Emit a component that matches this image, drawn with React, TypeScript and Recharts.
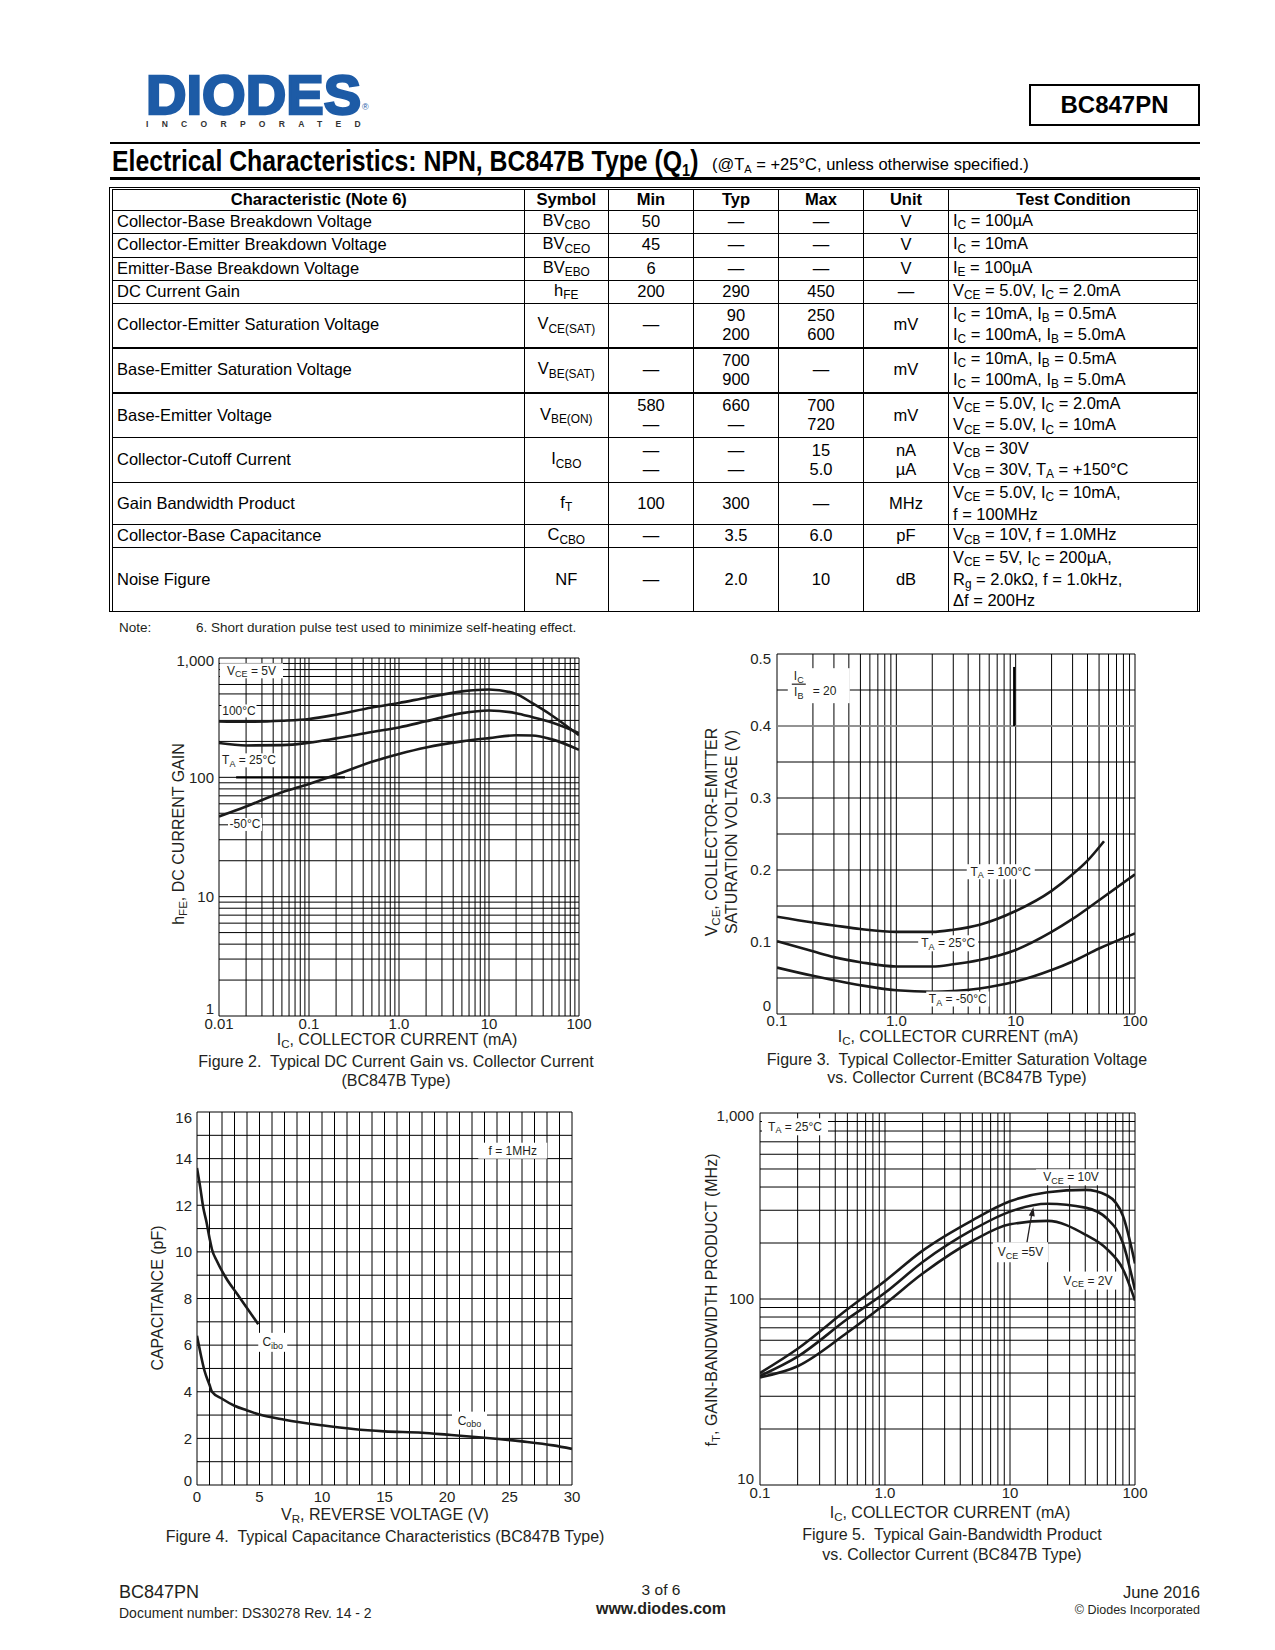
import React from 'react';
import { LineChart, Line, XAxis, YAxis, CartesianGrid, ReferenceDot, ReferenceLine } from 'recharts';

const FONT = '"Liberation Sans", Arial, Helvetica, sans-serif';
const INK = '#231f20';

// ---------- Figure 2: hFE vs IC ----------
const fig2Current = [0.01, 0.02, 0.05, 0.1, 0.2, 0.5, 1, 2, 5, 10, 20, 30, 50, 100];
const fig2Gain100C = [294, 292, 298, 308, 335, 385, 420, 465, 525, 545, 500, 420, 330, 225];
const fig2Gain25C = [194, 185, 186, 195, 212, 240, 262, 295, 345, 363, 345, 320, 288, 235];
const fig2GainMinus50C = [47, 57, 75, 88, 105, 135, 157, 178, 200, 213, 225, 224, 208, 170];
const fig2XTicks = [0.01, 0.1, 1, 10, 100];
const fig2XTickLabels = ['0.01', '0.1', '1.0', '10', '100'];
const fig2YTicks = [1, 10, 100, 1000];
const fig2YTickLabels = ['1', '10', '100', '1,000'];
const fig2YTickShift = [-7, 0, 0, 3];

// ---------- Figure 3: VCE(sat) vs IC ----------
const fig3Current = [0.1, 0.2, 0.3, 0.5, 1, 2, 3, 5, 10, 20, 30, 50, 100];
const fig3Current100C = [0.1, 0.2, 0.3, 0.5, 1, 2, 3, 5, 10, 20, 30, 40, 55];
const fig3Vsat100C = [0.135, 0.127, 0.123, 0.118, 0.114, 0.114, 0.117, 0.124, 0.143, 0.171, 0.194, 0.213, 0.24];
const fig3Vsat25C = [0.101, 0.087, 0.079, 0.072, 0.066, 0.066, 0.069, 0.075, 0.089, 0.114, 0.132, 0.158, 0.194];
const fig3VsatMinus50C = [0.0645, 0.053, 0.047, 0.04, 0.033, 0.031, 0.032, 0.0355, 0.045, 0.061, 0.073, 0.091, 0.112];
const fig3XTicks = [0.1, 1, 10, 100];
const fig3XTickLabels = ['0.1', '1.0', '10', '100'];
const fig3YTicks = [0, 0.1, 0.2, 0.3, 0.4, 0.5];
const fig3YTickLabels = ['0', '0.1', '0.2', '0.3', '0.4', '0.5'];
const fig3YTickShift = [-8, 0, 0, 0, 0, 5];

// ---------- Figure 4: Capacitance vs VR ----------
const fig4CiboVoltage = [0, 0.25, 0.5, 0.75, 1.0, 1.2, 1.6, 2.3, 3.2, 4.9];
const fig4Cibo = [13.6, 12.8, 11.9, 11.3, 10.6, 10.1, 9.6, 8.9, 8.2, 6.9];
const fig4CoboVoltage = [0, 0.3, 0.6, 1.0, 1.2, 2, 3, 4, 5, 7, 10, 12.5, 15, 18, 20, 23, 26, 28.5, 30];
const fig4Cobo = [6.4, 5.6, 4.9, 4.3, 4.0, 3.7, 3.4, 3.2, 3.02, 2.8, 2.56, 2.4, 2.3, 2.24, 2.16, 2.03, 1.87, 1.7, 1.55];
const fig4XTicks = [0, 5, 10, 15, 20, 25, 30];
const fig4XTickLabels = ['0', '5', '10', '15', '20', '25', '30'];
const fig4YTicks = [0, 2, 4, 6, 8, 10, 12, 14, 16];
const fig4YTickLabels = ['0', '2', '4', '6', '8', '10', '12', '14', '16'];
const fig4YTickShift = [-4, 0, 0, 0, 0, 0, 0, 0, 6];

// ---------- Figure 5: fT vs IC ----------
const fig5Current = [0.1, 0.2, 0.5, 1, 2, 5, 10, 20, 40, 60, 80, 100];
const fig5Ft10V = [40, 54, 88, 125, 182, 265, 335, 375, 386, 360, 280, 155];
const fig5Ft5V = [38.6, 49, 78, 108, 158, 235, 295, 325, 310, 270, 200, 112];
const fig5Ft2V = [37.9, 43.5, 66, 94, 137, 205, 252, 263, 222, 185, 145, 98];
const fig5XTicks = [0.1, 1, 10, 100];
const fig5XTickLabels = ['0.1', '1.0', '10', '100'];
const fig5YTicks = [10, 100, 1000];
const fig5YTickLabels = ['10', '100', '1,000'];
const fig5YTickShift = [-6, 0, 3];

// ---------- helpers ----------
const logGrid = (fromExp: number, toExp: number) => {
  const out: number[] = [];
  for (let e = fromExp; e < toExp; e++) {
    for (let m = 1; m < 10; m++) out.push(parseFloat((m * Math.pow(10, e)).toPrecision(6)));
  }
  out.push(Math.pow(10, toExp));
  return out;
};
const linGrid = (from: number, to: number, step: number) => {
  const out: number[] = [];
  const n = Math.round((to - from) / step);
  for (let i = 0; i <= n; i++) out.push(parseFloat((from + i * step).toPrecision(6)));
  return out;
};
const toData = (xs: number[], ys: number[]) => xs.map((x, i) => ({ x, y: ys[i] }));
const idxOf = (ticks: number[], v: number) =>
  ticks.findIndex((t) => Math.abs(t - v) <= 1e-9 * Math.max(1, Math.abs(t)));
const fmt = (ticks: number[], labels: string[]) => (v: number) => {
  const i = idxOf(ticks, v);
  return i >= 0 ? labels[i] : '';
};
const yTick = (ticks: number[], labels: string[], shifts: number[]) => (props: any) => {
  const v = props.payload ? props.payload.value : 0;
  const i = idxOf(ticks, v);
  if (i < 0) return <g />;
  return (
    <text x={props.x} y={props.y + (shifts[i] || 0)} dy="0.355em" textAnchor="end" fill={INK} fontSize={15} fontFamily={FONT}>
      {labels[i]}
    </text>
  );
};

type Part = [string, boolean];
function svgParts(parts: Part[], fs: number) {
  let shifted = false;
  return parts.map(([t, sub], i) => {
    let dy = 0;
    if (sub && !shifted) {
      dy = fs * 0.3;
      shifted = true;
    } else if (!sub && shifted) {
      dy = -fs * 0.3;
      shifted = false;
    }
    return (
      <tspan key={i} dy={dy} fontSize={sub ? fs * 0.75 : fs}>
        {t}
      </tspan>
    );
  });
}

const boxShape = (parts: Part[], w: number, h: number, fs = 12) => (p: any) => {
  const cx = p.cx;
  const cy = p.cy;
  return (
    <g>
      <rect x={cx - w / 2} y={cy - h / 2} width={w} height={h} fill="#fff" />
      <text x={cx} y={cy} textAnchor="middle" dominantBaseline="central" fontFamily={FONT} fontSize={fs} fill={INK}>
        {svgParts(parts, fs)}
      </text>
    </g>
  );
};

const fractionShape = (p: any) => {
  const cx = p.cx;
  const cy = p.cy;
  return (
    <g fontFamily={FONT} fill={INK}>
      <rect x={cx - 31} y={cy - 17.5} width={62} height={35} fill="#fff" />
      <text x={cx - 20} y={cy - 9.5} textAnchor="middle" dominantBaseline="central" fontSize={12}>
        {svgParts([['I', false], ['C', true]], 12)}
      </text>
      <line x1={cx - 27} x2={cx - 13} y1={cy - 1.5} y2={cy - 1.5} stroke={INK} strokeWidth={1.2} />
      <text x={cx - 20} y={cy + 6.5} textAnchor="middle" dominantBaseline="central" fontSize={12}>
        {svgParts([['I', false], ['B', true]], 12)}
      </text>
      <text x={cx - 6} y={cy + 5.5} textAnchor="start" dominantBaseline="central" fontSize={12}>
        = 20
      </text>
    </g>
  );
};

const arrowHeadShape = (p: any) => {
  const ux = 0.177;
  const uy = -0.984;
  const L = 9;
  const W = 3;
  const bx = p.cx - ux * L;
  const by = p.cy - uy * L;
  const px = -uy;
  const py = ux;
  return (
    <polygon
      points={`${p.cx},${p.cy} ${bx + px * W},${by + py * W} ${bx - px * W},${by - py * W}`}
      fill={INK}
    />
  );
};

const tickStyle = { fill: INK, fontSize: 15, fontFamily: FONT };
const curveProps = {
  dataKey: 'y',
  type: 'monotone' as const,
  stroke: '#1a1a1a',
  strokeWidth: 2.6,
  dot: false,
  activeDot: false,
  isAnimationActive: false,
};

const Sub = ({ children }: { children: React.ReactNode }) => (
  <span style={{ fontSize: '0.72em', position: 'relative', top: '0.28em' }}>{children}</span>
);

const Txt = ({
  x,
  y,
  size = 16,
  bold = false,
  anchor = 'center',
  rotate = false,
  color = INK,
  children,
}: {
  x: number;
  y: number;
  size?: number;
  bold?: boolean;
  anchor?: 'center' | 'start' | 'end';
  rotate?: boolean;
  color?: string;
  children: React.ReactNode;
}) => {
  const tx = anchor === 'center' ? '-50%' : anchor === 'end' ? '-100%' : '0';
  return (
    <div
      style={{
        position: 'absolute',
        left: x,
        top: y,
        transform: `translate(${tx}, -50%)${rotate ? ' rotate(-90deg)' : ''}`,
        fontSize: size,
        fontWeight: bold ? 700 : 400,
        whiteSpace: 'nowrap',
        lineHeight: 1,
        color,
      }}
    >
      {children}
    </div>
  );
};

const MARGIN = { top: 10, right: 25, bottom: 0, left: 0 };

// ---------- Charts ----------
function Fig2() {
  return (
    <div style={{ position: 'absolute', left: 150, top: 648 }}>
      <LineChart width={454} height={398} margin={MARGIN}>
        <CartesianGrid stroke="#000" strokeWidth={1} horizontalValues={logGrid(0, 3)} verticalValues={logGrid(-2, 2)} />
        <XAxis dataKey="x" type="number" scale="log" domain={[0.01, 100]} allowDataOverflow ticks={fig2XTicks} interval={0}
          tickFormatter={fmt(fig2XTicks, fig2XTickLabels)} tick={tickStyle} tickLine={false} axisLine={false} tickSize={0} tickMargin={2} height={30} />
        <YAxis type="number" scale="log" domain={[1, 1000]} allowDataOverflow ticks={fig2YTicks} interval={0}
          tick={yTick(fig2YTicks, fig2YTickLabels, fig2YTickShift)} tickLine={false} axisLine={false} tickSize={0} tickMargin={5} width={69} />
        <ReferenceLine segment={[{ x: 0.0155, y: 100 }, { x: 0.251, y: 100 }]} stroke="#000" strokeWidth={2.2} ifOverflow="visible" />
        <Line {...curveProps} data={toData(fig2Current, fig2Gain100C)} />
        <Line {...curveProps} data={toData(fig2Current, fig2Gain25C)} />
        <Line {...curveProps} data={toData(fig2Current, fig2GainMinus50C)} />
        <ReferenceDot x={0.02296} y={781} r={1} ifOverflow="visible" shape={boxShape([['V', false], ['CE', true], [' = 5V', false]], 63, 15)} />
        <ReferenceDot x={0.01668} y={360} r={1} ifOverflow="visible" shape={boxShape([['100°C', false]], 35, 13)} />
        <ReferenceDot x={0.02154} y={138.8} r={1} ifOverflow="visible" shape={boxShape([['T', false], ['A', true], [' = 25°C', false]], 56, 14)} />
        <ReferenceDot x={0.01945} y={40.3} r={1} ifOverflow="visible" shape={boxShape([['-50°C', false]], 34, 13)} />
      </LineChart>
    </div>
  );
}

function Fig3() {
  return (
    <div style={{ position: 'absolute', left: 707, top: 644 }}>
      <LineChart width={453} height={400} margin={MARGIN}>
        <CartesianGrid stroke="#000" strokeWidth={1} horizontalValues={linGrid(0, 0.5, 0.05)} verticalValues={logGrid(-1, 2)} />
        <XAxis dataKey="x" type="number" scale="log" domain={[0.1, 100]} allowDataOverflow ticks={fig3XTicks} interval={0}
          tickFormatter={fmt(fig3XTicks, fig3XTickLabels)} tick={tickStyle} tickLine={false} axisLine={false} tickSize={0} tickMargin={1} height={30} />
        <YAxis type="number" domain={[0, 0.5]} allowDataOverflow ticks={fig3YTicks} interval={0}
          tick={yTick(fig3YTicks, fig3YTickLabels, fig3YTickShift)} tickLine={false} axisLine={false} tickSize={0} tickMargin={6} width={70} />
        <ReferenceLine y={0.4} stroke="#9a9a9a" strokeWidth={1.3} ifOverflow="visible" />
        <ReferenceLine segment={[{ x: 9.7, y: 0.4 }, { x: 9.7, y: 0.482 }]} stroke="#000" strokeWidth={2} ifOverflow="visible" />
        <Line {...curveProps} data={toData(fig3Current100C, fig3Vsat100C)} />
        <Line {...curveProps} data={toData(fig3Current, fig3Vsat25C)} />
        <Line {...curveProps} data={toData(fig3Current, fig3VsatMinus50C)} />
        <ReferenceDot x={0.224} y={0.456} r={1} ifOverflow="visible" shape={fractionShape} />
        <ReferenceDot x={7.5} y={0.1976} r={1} ifOverflow="visible" shape={boxShape([['T', false], ['A', true], [' = 100°C', false]], 68, 15)} />
        <ReferenceDot x={2.72} y={0.0982} r={1} ifOverflow="visible" shape={boxShape([['T', false], ['A', true], [' = 25°C', false]], 60, 16)} />
        <ReferenceDot x={3.27} y={0.0208} r={1} ifOverflow="visible" shape={boxShape([['T', false], ['A', true], [' =  -50°C', false]], 63, 15)} />
      </LineChart>
    </div>
  );
}

function Fig4() {
  return (
    <div style={{ position: 'absolute', left: 130, top: 1102 }}>
      <LineChart width={467} height={413} margin={MARGIN}>
        <CartesianGrid stroke="#000" strokeWidth={1} horizontalValues={linGrid(0, 16, 1)} verticalValues={linGrid(0, 30, 1)} />
        <XAxis dataKey="x" type="number" domain={[0, 30]} allowDataOverflow ticks={fig4XTicks} interval={0}
          tickFormatter={fmt(fig4XTicks, fig4XTickLabels)} tick={tickStyle} tickLine={false} axisLine={false} tickSize={0} tickMargin={6} height={30} />
        <YAxis type="number" domain={[0, 16]} allowDataOverflow ticks={fig4YTicks} interval={0}
          tick={yTick(fig4YTicks, fig4YTickLabels, fig4YTickShift)} tickLine={false} axisLine={false} tickSize={0} tickMargin={5} width={67} />
        <Line {...curveProps} data={toData(fig4CiboVoltage, fig4Cibo)} />
        <Line {...curveProps} data={toData(fig4CoboVoltage, fig4Cobo)} />
        <ReferenceDot x={25.26} y={14.34} r={1} ifOverflow="visible" shape={boxShape([['f = 1MHz', false]], 69, 16)} />
        <ReferenceDot x={6.06} y={6.12} r={1} ifOverflow="visible" shape={boxShape([['C', false], ['ibo', true]], 29, 19)} />
        <ReferenceDot x={21.8} y={2.76} r={1} ifOverflow="visible" shape={boxShape([['C', false], ['obo', true]], 35, 18)} />
      </LineChart>
    </div>
  );
}

function Fig5() {
  return (
    <div style={{ position: 'absolute', left: 690, top: 1103 }}>
      <LineChart width={470} height={412} margin={MARGIN}>
        <CartesianGrid stroke="#000" strokeWidth={1} horizontalValues={logGrid(1, 3)} verticalValues={logGrid(-1, 2)} />
        <XAxis dataKey="x" type="number" scale="log" domain={[0.1, 100]} allowDataOverflow ticks={fig5XTicks} interval={0}
          tickFormatter={fmt(fig5XTicks, fig5XTickLabels)} tick={tickStyle} tickLine={false} axisLine={false} tickSize={0} tickMargin={2} height={30} />
        <YAxis type="number" scale="log" domain={[10, 1000]} allowDataOverflow ticks={fig5YTicks} interval={0}
          tick={yTick(fig5YTicks, fig5YTickLabels, fig5YTickShift)} tickLine={false} axisLine={false} tickSize={0} tickMargin={6} width={70} />
        <Line {...curveProps} data={toData(fig5Current, fig5Ft10V)} />
        <Line {...curveProps} data={toData(fig5Current, fig5Ft5V)} />
        <Line {...curveProps} data={toData(fig5Current, fig5Ft2V)} />
        <ReferenceLine segment={[{ x: 13.6, y: 198 }, { x: 15.1, y: 300 }]} stroke={INK} strokeWidth={1.3} ifOverflow="visible" />
        <ReferenceDot x={15.38} y={312} r={1} ifOverflow="visible" shape={arrowHeadShape} />
        <ReferenceDot x={0.1905} y={843} r={1} ifOverflow="visible" shape={boxShape([['T', false], ['A', true], [' = 25°C', false]], 66, 17)} />
        <ReferenceDot x={30.8} y={451} r={1} ifOverflow="visible" shape={boxShape([['V', false], ['CE', true], [' = 10V', false]], 70, 16)} />
        <ReferenceDot x={12.13} y={178.4} r={1} ifOverflow="visible" shape={boxShape([['V', false], ['CE', true], [' =5V', false]], 55, 20)} />
        <ReferenceDot x={42.1} y={125.6} r={1} ifOverflow="visible" shape={boxShape([['V', false], ['CE', true], [' = 2V', false]], 58, 18)} />
      </LineChart>
    </div>
  );
}

// ---------- Table ----------
const colW = [411.6, 84.4, 85, 85, 85, 85, 249];
const rowH = [21, 22, 24, 23, 23, 44, 45, 45, 45, 42, 23, 62];

const L = ({ lines }: { lines: React.ReactNode[] }) => (
  <>
    {lines.map((l, i) => (
      <div key={i}>{l}</div>
    ))}
  </>
);

function SpecTable() {
  const D = '—';
  const rows: React.ReactNode[][] = [
    ['Collector-Base Breakdown Voltage', <>BV<Sub>CBO</Sub></>, '50', D, D, 'V', <>I<Sub>C</Sub> = 100µA</>],
    ['Collector-Emitter Breakdown Voltage', <>BV<Sub>CEO</Sub></>, '45', D, D, 'V', <>I<Sub>C</Sub> = 10mA</>],
    ['Emitter-Base Breakdown Voltage', <>BV<Sub>EBO</Sub></>, '6', D, D, 'V', <>I<Sub>E</Sub> = 100µA</>],
    ['DC Current Gain', <>h<Sub>FE</Sub></>, '200', '290', '450', D, <>V<Sub>CE</Sub> = 5.0V, I<Sub>C</Sub> = 2.0mA</>],
    ['Collector-Emitter Saturation Voltage', <>V<Sub>CE(SAT)</Sub></>, D, <L lines={['90', '200']} />, <L lines={['250', '600']} />, 'mV',
      <L lines={[<>I<Sub>C</Sub> = 10mA, I<Sub>B</Sub> = 0.5mA</>, <>I<Sub>C</Sub> = 100mA, I<Sub>B</Sub> = 5.0mA</>]} />],
    ['Base-Emitter Saturation Voltage', <>V<Sub>BE(SAT)</Sub></>, D, <L lines={['700', '900']} />, D, 'mV',
      <L lines={[<>I<Sub>C</Sub> = 10mA, I<Sub>B</Sub> = 0.5mA</>, <>I<Sub>C</Sub> = 100mA, I<Sub>B</Sub> = 5.0mA</>]} />],
    ['Base-Emitter Voltage', <>V<Sub>BE(ON)</Sub></>, <L lines={['580', D]} />, <L lines={['660', D]} />, <L lines={['700', '720']} />, 'mV',
      <L lines={[<>V<Sub>CE</Sub> = 5.0V, I<Sub>C</Sub> = 2.0mA</>, <>V<Sub>CE</Sub> = 5.0V, I<Sub>C</Sub> = 10mA</>]} />],
    ['Collector-Cutoff Current', <>I<Sub>CBO</Sub></>, <L lines={[D, D]} />, <L lines={[D, D]} />, <L lines={['15', '5.0']} />, <L lines={['nA', 'µA']} />,
      <L lines={[<>V<Sub>CB</Sub> = 30V</>, <>V<Sub>CB</Sub> = 30V, T<Sub>A</Sub> = +150°C</>]} />],
    ['Gain Bandwidth Product', <>f<Sub>T</Sub></>, '100', '300', D, 'MHz',
      <L lines={[<>V<Sub>CE</Sub> = 5.0V, I<Sub>C</Sub> = 10mA,</>, 'f = 100MHz']} />],
    ['Collector-Base Capacitance', <>C<Sub>CBO</Sub></>, D, '3.5', '6.0', 'pF', <>V<Sub>CB</Sub> = 10V, f = 1.0MHz</>],
    ['Noise Figure', 'NF', D, '2.0', '10', 'dB',
      <L lines={[<>V<Sub>CE</Sub> = 5V, I<Sub>C</Sub> = 200µA,</>, <>R<Sub>g</Sub> = 2.0kΩ, f = 1.0kHz,</>, 'Δf = 200Hz']} />],
  ];
  const header = ['Characteristic (Note 6)', 'Symbol', 'Min', 'Typ', 'Max', 'Unit', 'Test Condition'];
  const cell = (ci: number, thick: boolean, bold = false): React.CSSProperties => ({
    border: '1px solid #000',
    borderBottom: thick ? '2.5px solid #000' : '1px solid #000',
    padding: ci === 0 || ci === 6 ? '0 3px 0 4px' : 0,
    textAlign: bold ? 'center' : ci === 0 || ci === 6 ? 'left' : 'center',
    verticalAlign: 'middle',
    fontWeight: bold ? 700 : 400,
    fontSize: 16.5,
    lineHeight: '19.5px',
    whiteSpace: 'nowrap',
    overflow: 'hidden',
  });
  return (
    <>
      <div style={{ position: 'absolute', left: 109, top: 186.5, width: 1091, height: 425, border: '1.5px solid #000', boxSizing: 'border-box' }} />
      <table
        style={{ position: 'absolute', left: 112, top: 189, width: 1085, borderCollapse: 'collapse', tableLayout: 'fixed', color: '#000' }}
      >
        <colgroup>
          {colW.map((w, i) => (
            <col key={i} style={{ width: w }} />
          ))}
        </colgroup>
        <tbody>
          <tr style={{ height: rowH[0] }}>
            {header.map((h, i) => (
              <td key={i} style={cell(i, false, true)}>
                {h}
              </td>
            ))}
          </tr>
          {rows.map((r, ri) => (
            <tr key={ri} style={{ height: rowH[ri + 1] }}>
              {r.map((c, ci) => (
                <td key={ci} style={cell(ci, ri === 4 || ri === 5)}>
                  {c}
                </td>
              ))}
            </tr>
          ))}
        </tbody>
      </table>
    </>
  );
}

export default function App() {
  return (
    <div
      style={{
        position: 'absolute',
        left: 0,
        top: 0,
        width: 1275,
        height: 1650,
        background: '#fff',
        fontFamily: FONT,
        color: INK,
        overflow: 'hidden',
      }}
    >
      {/* Logo */}
      <div
        style={{
          position: 'absolute', left: 146, top: 73.5, height: 42, lineHeight: '42px', fontSize: 55, fontWeight: 700,
          color: '#1d5ba6', WebkitTextStroke: '2.5px #1d5ba6', whiteSpace: 'nowrap', transform: 'scaleX(1.02)', transformOrigin: '0 0',
        }}
      >
        DIODES
      </div>
      <div
        style={{
          position: 'absolute', left: 146, top: 120, height: 9, lineHeight: '9px', fontSize: 8.5, fontWeight: 700, color: '#333',
          letterSpacing: 13.3, whiteSpace: 'nowrap',
        }}
      >
        INCORPORATED
      </div>
      <div style={{ position: 'absolute', left: 362, top: 103, fontSize: 9, lineHeight: '9px', color: '#1d5ba6' }}>®</div>

      {/* Part number box */}
      <div
        style={{
          position: 'absolute', left: 1029, top: 84, width: 171, height: 42, border: '2px solid #000', boxSizing: 'border-box',
          display: 'flex', alignItems: 'center', justifyContent: 'center', fontWeight: 700, fontSize: 24, color: '#000',
        }}
      >
        BC847PN
      </div>

      <div style={{ position: 'absolute', left: 110, top: 141.5, width: 1090, height: 2.5, background: '#000' }} />

      {/* Title */}
      <div
        style={{
          position: 'absolute', left: 111.5, top: 147, fontSize: 29, fontWeight: 700, color: '#000', lineHeight: '29px',
          whiteSpace: 'nowrap', transform: 'scaleX(0.855)', transformOrigin: '0 0',
        }}
      >
        Electrical Characteristics: NPN, BC847B Type (Q<span style={{ fontSize: 17, position: 'relative', top: 5 }}>1</span>)
      </div>
      <div style={{ position: 'absolute', left: 712, top: 156, fontSize: 16.5, color: '#000', lineHeight: '17px', whiteSpace: 'nowrap' }}>
        (@T<span style={{ fontSize: 11, position: 'relative', top: 3 }}>A</span> = +25°C, unless otherwise specified.)
      </div>

      <div style={{ position: 'absolute', left: 110, top: 177.3, width: 1090, height: 2.5, background: '#000' }} />

      <SpecTable />

      {/* Note */}
      <Txt x={119} y={628} size={13.5} anchor="start">Note:</Txt>
      <Txt x={196} y={628} size={13.5} anchor="start">6. Short duration pulse test used to minimize self-heating effect.</Txt>

      {/* Figure 2 */}
      <Fig2 />
      <Txt x={179} y={834} rotate>
        h<Sub>FE</Sub>, DC CURRENT GAIN
      </Txt>
      <Txt x={397} y={1040}>
        I<Sub>C</Sub>, COLLECTOR CURRENT (mA)
      </Txt>
      <Txt x={396} y={1062}>Figure 2.&nbsp; Typical DC Current Gain vs. Collector Current</Txt>
      <Txt x={396} y={1081}>(BC847B Type)</Txt>

      {/* Figure 3 */}
      <Fig3 />
      <Txt x={712} y={832} rotate>
        V<Sub>CE</Sub>, COLLECTOR-EMITTER
      </Txt>
      <Txt x={731.5} y={832} rotate>
        SATURATION VOLTAGE (V)
      </Txt>
      <Txt x={958} y={1037}>
        I<Sub>C</Sub>, COLLECTOR CURRENT (mA)
      </Txt>
      <Txt x={957} y={1060}>Figure 3.&nbsp; Typical Collector-Emitter Saturation Voltage</Txt>
      <Txt x={957} y={1078}>vs. Collector Current (BC847B Type)</Txt>

      {/* Figure 4 */}
      <Fig4 />
      <Txt x={158} y={1298} rotate>
        CAPACITANCE (pF)
      </Txt>
      <Txt x={385} y={1515}>
        V<Sub>R</Sub>, REVERSE VOLTAGE (V)
      </Txt>
      <Txt x={385} y={1537}>Figure 4.&nbsp; Typical Capacitance Characteristics (BC847B Type)</Txt>

      {/* Figure 5 */}
      <Fig5 />
      <Txt x={712} y={1300} rotate>
        f<Sub>T</Sub>, GAIN-BANDWIDTH PRODUCT (MHz)
      </Txt>
      <Txt x={950} y={1513}>
        I<Sub>C</Sub>, COLLECTOR CURRENT (mA)
      </Txt>
      <Txt x={952} y={1535}>Figure 5.&nbsp; Typical Gain-Bandwidth Product</Txt>
      <Txt x={952} y={1555}>vs. Collector Current (BC847B Type)</Txt>

      {/* Footer */}
      <Txt x={119} y={1592} size={18} anchor="start">BC847PN</Txt>
      <Txt x={119} y={1613} size={14} anchor="start">Document number: DS30278 Rev. 14 - 2</Txt>
      <Txt x={661} y={1590} size={15.5}>3 of 6</Txt>
      <Txt x={661} y={1609} size={16} bold>www.diodes.com</Txt>
      <Txt x={1200} y={1592} size={16.5} anchor="end">June 2016</Txt>
      <Txt x={1200} y={1610} size={12.5} anchor="end">© Diodes Incorporated</Txt>
    </div>
  );
}
